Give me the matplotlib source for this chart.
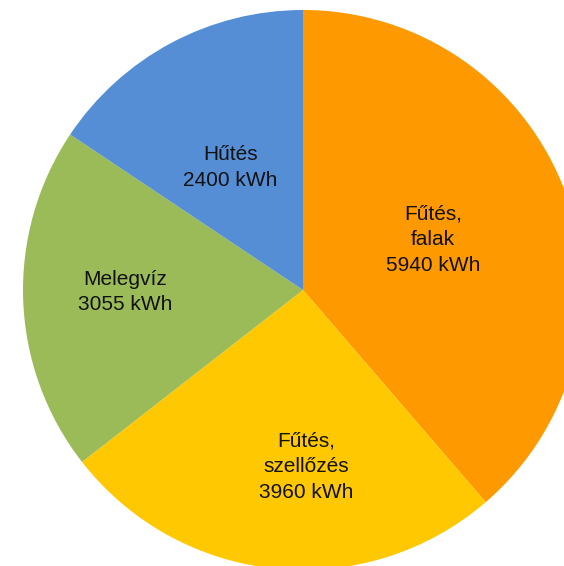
import matplotlib
matplotlib.use("Agg")
import matplotlib.pyplot as plt

# energy use per category, kWh
labels = ["Fűtés,\nfalak", "Fűtés,\nszellőzés", "Melegvíz", "Hűtés"]
values = [5940, 3960, 3055, 2400]
colors = ["#FF9900", "#FFC800", "#9BBB59", "#558ED5"]

# label centres in pie units (radius 1)
label_pos = [(0.464, 0.18), (0.01, -0.63), (-0.636, -0.007), (-0.26, 0.4375)]

R = 280.0
cx, cy = 303.0, 290.0
W, H = 564, 566

fig = plt.figure(figsize=(W / 100, H / 100), dpi=100)
ax = fig.add_axes([0, 0, 1, 1])
ax.pie(values, colors=colors, startangle=90, counterclock=False,
       radius=1.0, wedgeprops=dict(linewidth=0))
ax.set_xlim(-cx / R, (W - cx) / R)
ax.set_ylim(-(H - cy) / R, cy / R)
ax.set_aspect("equal")
ax.axis("off")

for lab, v, (x, y) in zip(labels, values, label_pos):
    ax.text(x, y, f"{lab}\n{v} kWh", ha="center", va="center",
            fontsize=15, family=["Liberation Sans", "DejaVu Sans"],
            color="#111111", linespacing=1.45)

fig.savefig("out.png", dpi=100)
